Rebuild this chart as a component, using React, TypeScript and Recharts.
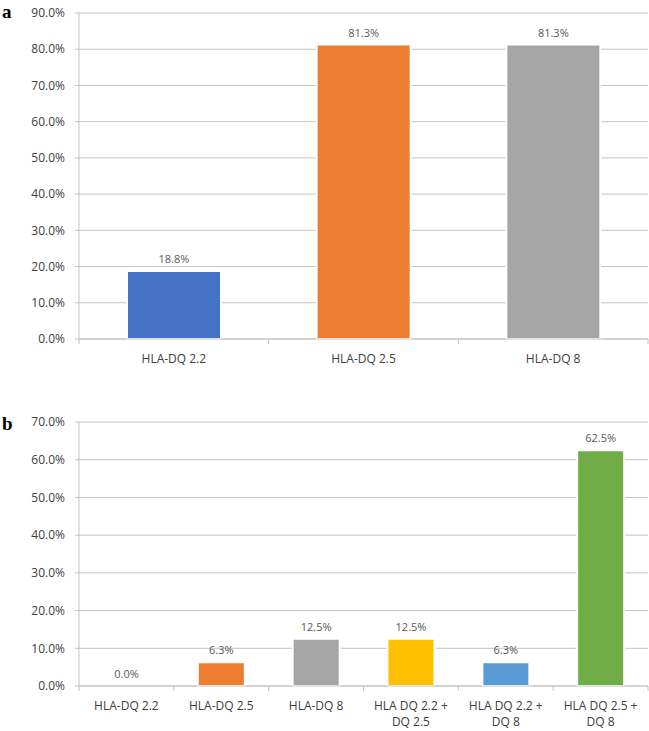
import React from "react";
import {
  BarChart,
  Bar,
  Cell,
  CartesianGrid,
  XAxis,
  YAxis,
  LabelList,
} from "recharts";

// panel a
const catsA = ["HLA-DQ 2.2", "HLA-DQ 2.5", "HLA-DQ 8"];
const valuesA = [18.8, 81.3, 81.3];
const ticksA = [0, 10, 20, 30, 40, 50, 60, 70, 80, 90];

// panel b
const catsB = [
  "HLA-DQ 2.2",
  "HLA-DQ 2.5",
  "HLA-DQ 8",
  "HLA DQ 2.2 +\nDQ 2.5",
  "HLA DQ 2.2 +\nDQ 8",
  "HLA DQ 2.5 +\nDQ 8",
];
const valuesB = [0, 6.3, 12.5, 12.5, 6.3, 62.5];
const ticksB = [0, 10, 20, 30, 40, 50, 60, 70];

const colorsA = ["#4472C4", "#ED7D31", "#A5A5A5"];
const colorsB = ["#4472C4", "#ED7D31", "#A5A5A5", "#FFC000", "#5B9BD5", "#70AD47"];

const FONT = "'Open Sans', sans-serif";
const LINE = "#C4C4C4";

const pct = (v: number) => `${Number(v).toFixed(1)}%`;

function CatTick(props: any) {
  const { x, y, payload, index, visibleTicksCount, half } = props;
  const h = payload && payload.offset ? payload.offset : half;
  const lines = String(payload.value).split("\n");
  const last = index === visibleTicksCount - 1;
  return (
    <g>
      <line x1={x - h} y1={y} x2={x - h} y2={y + 5} stroke={LINE} />
      {last && <line x1={x + h} y1={y} x2={x + h} y2={y + 5} stroke={LINE} />}
      <text
        x={x}
        y={y + 23.5}
        textAnchor="middle"
        fontSize={12}
        fontFamily={FONT}
        fill="#404040"
      >
        {lines.map((l, i) => (
          <tspan key={i} x={x} dy={i === 0 ? 0 : 16.5}>
            {l}
          </tspan>
        ))}
      </text>
    </g>
  );
}

// data label above each bar
function TopLabel(props: any) {
  const { x, y, width, height, value } = props;
  const topY = Math.min(Number(y), Number(y) + Number(height || 0));
  return (
    <text
      x={Number(x) + Number(width) / 2}
      y={topY - 8}
      textAnchor="middle"
      fontSize={11}
      fontFamily={FONT}
      fill="#595959"
    >
      {pct(value)}
    </text>
  );
}

function Panel({
  cats,
  values,
  colors,
  ticks,
  height,
  top,
  xHeight,
  barSize,
}: {
  cats: string[];
  values: number[];
  colors: string[];
  ticks: number[];
  height: number;
  top: number;
  xHeight: number;
  barSize: number;
}) {
  const data = cats.map((c, i) => ({ name: c, value: values[i] }));
  const half = 570 / cats.length / 2;
  return (
    <BarChart
      width={649}
      height={height}
      data={data}
      margin={{ top, right: 1, bottom: 0, left: 0 }}
    >
      <CartesianGrid vertical={false} stroke={LINE} />
      <XAxis
        dataKey="name"
        interval={0}
        height={xHeight}
        tickSize={0}
        tickMargin={0}
        axisLine={{ stroke: LINE }}
        tick={<CatTick half={half} />}
      />
      <YAxis
        width={79}
        domain={[ticks[0], ticks[ticks.length - 1]]}
        ticks={ticks}
        tickFormatter={pct}
        tickSize={4}
        tickMargin={10}
        axisLine={{ stroke: LINE }}
        tickLine={{ stroke: LINE }}
        tick={{ fontSize: 12, fontFamily: FONT, fill: "#404040" }}
      />
      <Bar
        dataKey="value"
        barSize={barSize}
        stroke="#fff"
        strokeWidth={2}
        minPointSize={0.01}
        isAnimationActive={false}
      >
        {data.map((d, i) => (
          <Cell
            key={d.name}
            fill={colors[i]}
            stroke={d.value === 0 ? "none" : "#fff"}
          />
        ))}
        <LabelList dataKey="value" content={<TopLabel />} />
      </Bar>
    </BarChart>
  );
}

const letter: React.CSSProperties = {
  position: "absolute",
  left: 2,
  fontFamily: "'Liberation Serif', 'Times New Roman', serif",
  fontWeight: "bold",
  fontSize: 19,
  lineHeight: "19px",
};

export default function App() {
  return (
    <div
      style={{
        position: "absolute",
        left: 0,
        top: 0,
        width: 649,
        height: 731,
        background: "#fff",
      }}
    >
      <div style={{ ...letter, top: 2 }}>a</div>
      <div style={{ ...letter, top: 414 }}>b</div>
      <div style={{ position: "absolute", left: 0, top: 0 }}>
        <Panel
          cats={catsA}
          values={valuesA}
          colors={colorsA}
          ticks={ticksA}
          height={370}
          top={13}
          xHeight={31}
          barSize={94}
        />
      </div>
      <div style={{ position: "absolute", left: 0, top: 400 }}>
        <Panel
          cats={catsB}
          values={valuesB}
          colors={colorsB}
          ticks={ticksB}
          height={331}
          top={22}
          xHeight={45}
          barSize={47}
        />
      </div>
    </div>
  );
}
